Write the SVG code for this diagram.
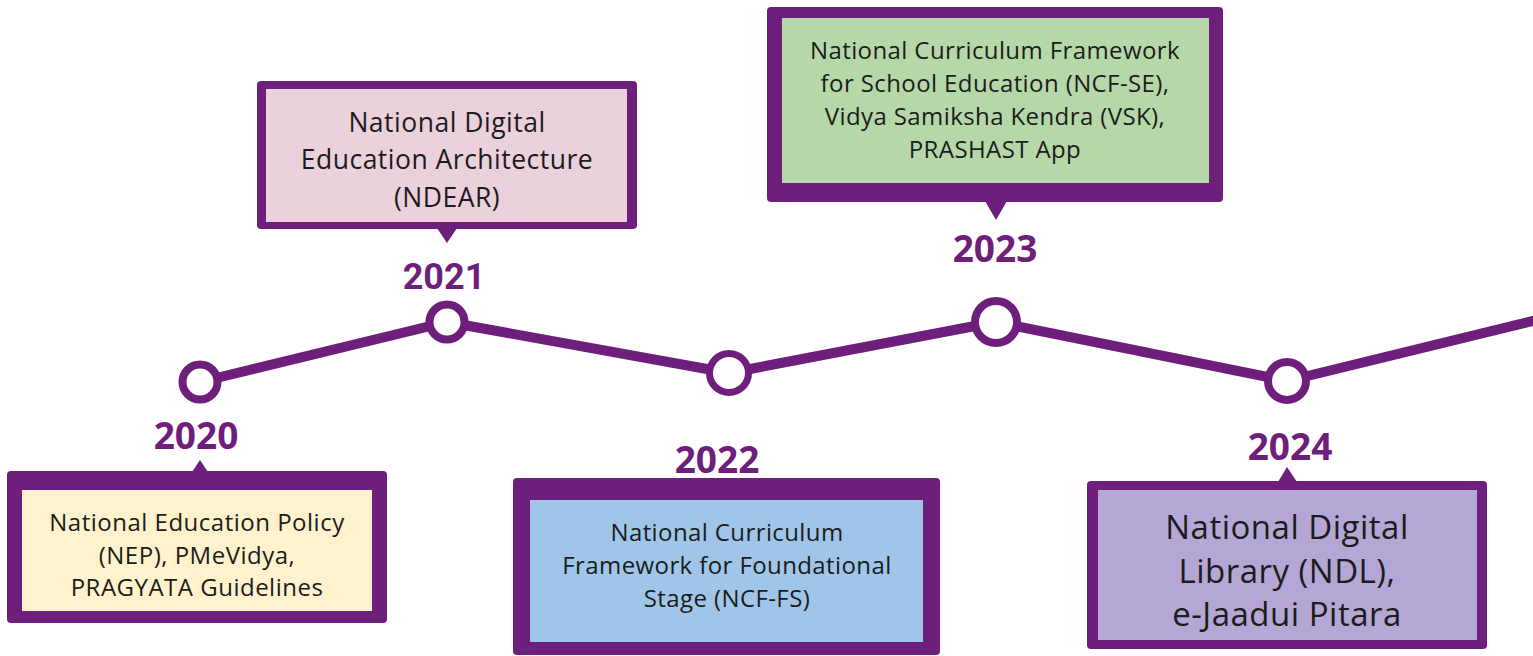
<svg xmlns="http://www.w3.org/2000/svg" width="1533" height="656" viewBox="0 0 1533 656">
<style>
.frame{fill:#6E1E7B}
.ptr{fill:#6E1E7B}
.body{font-family:"Open Sans","Noto Sans",sans-serif;fill:#1c1c1c;text-anchor:middle}
.s1{font-size:24px;letter-spacing:0.5px}
.s2{font-size:26.5px;letter-spacing:0.5px}
.s3{font-size:24px;letter-spacing:0.4px}
.s4{font-size:33px;letter-spacing:0.5px}
.year{font-family:"Open Sans","Noto Sans",sans-serif;font-weight:700;fill:#6E1E7B;text-anchor:middle;font-size:37px}
.dot{fill:#ffffff;stroke:#6E1E7B;stroke-width:8}
.line{fill:none;stroke:#6E1E7B;stroke-width:10;stroke-linejoin:round}
</style>
<rect width="1533" height="656" fill="#ffffff"/>
<g id="connectors">
<polyline class="line" points="200,382 447,322 729,373 996,322 1287,381 1545,318"/>
</g>
<g id="node-2020">
<circle class="dot" cx="200" cy="382" r="17.5"/>
<text class="year" x="196" y="449">2020</text>
<polygon class="ptr" points="192,472 200,460 208,472"/>
<rect class="frame" x="7" y="471" width="380" height="152" rx="4"/>
<rect x="22" y="490" width="350" height="121" fill="#FFF2CC"/>
<text class="body s1" x="197" y="531">National Education Policy</text>
<text class="body s1" x="197" y="564">(NEP), PMeVidya,</text>
<text class="body s1" x="197" y="596">PRAGYATA Guidelines</text>
</g>
<g id="node-2021">
<circle class="dot" cx="447" cy="322" r="17.5"/>
<text class="year" x="444" y="289" style="font-family:Roboto,sans-serif;font-size:36px">2021</text>
<polygon class="ptr" points="437,228 447,243 457,228"/>
<rect class="frame" x="257" y="81" width="380" height="148" rx="4"/>
<rect x="266" y="89" width="361" height="133" fill="#EAD1DC"/>
<text class="body s2" x="447" y="132">National Digital</text>
<text class="body s2" x="447" y="169">Education Architecture</text>
<text class="body s2" x="447" y="207">(NDEAR)</text>
</g>
<g id="node-2022">
<circle class="dot" cx="729" cy="373" r="19.5" style="stroke-width:7"/>
<text class="year" x="717" y="473">2022</text>
<rect class="frame" x="513" y="478" width="427" height="177" rx="4"/>
<rect x="530" y="500" width="393" height="142" fill="#9FC5E8"/>
<text class="body s3" x="727" y="541">National Curriculum</text>
<text class="body s3" x="727" y="574">Framework for Foundational</text>
<text class="body s3" x="727" y="607">Stage (NCF-FS)</text>
</g>
<g id="node-2023">
<circle class="dot" cx="996" cy="322" r="21"/>
<text class="year" x="995" y="262">2023</text>
<polygon class="ptr" points="985,201 996,220 1007,201"/>
<rect class="frame" x="767" y="7" width="456" height="195" rx="4"/>
<rect x="782" y="18" width="427" height="165" fill="#B6D7A8"/>
<text class="body s3" x="995" y="59">National Curriculum Framework</text>
<text class="body s3" x="995" y="92">for School Education (NCF-SE),</text>
<text class="body s3" x="995" y="125">Vidya Samiksha Kendra (VSK),</text>
<text class="body s3" x="995" y="158">PRASHAST App</text>
</g>
<g id="node-2024">
<circle class="dot" cx="1287" cy="381" r="19"/>
<text class="year" x="1290" y="460">2024</text>
<polygon class="ptr" points="1278,482 1287,467 1297,482"/>
<rect class="frame" x="1087" y="481" width="400" height="168" rx="4"/>
<rect x="1098" y="490" width="379" height="150" fill="#B4A7D6"/>
<text class="body s4" x="1287" y="539">National Digital</text>
<text class="body s4" x="1287" y="583">Library (NDL),</text>
<text class="body s4" x="1287" y="626">e-Jaadui Pitara</text>
</g>
</svg>
